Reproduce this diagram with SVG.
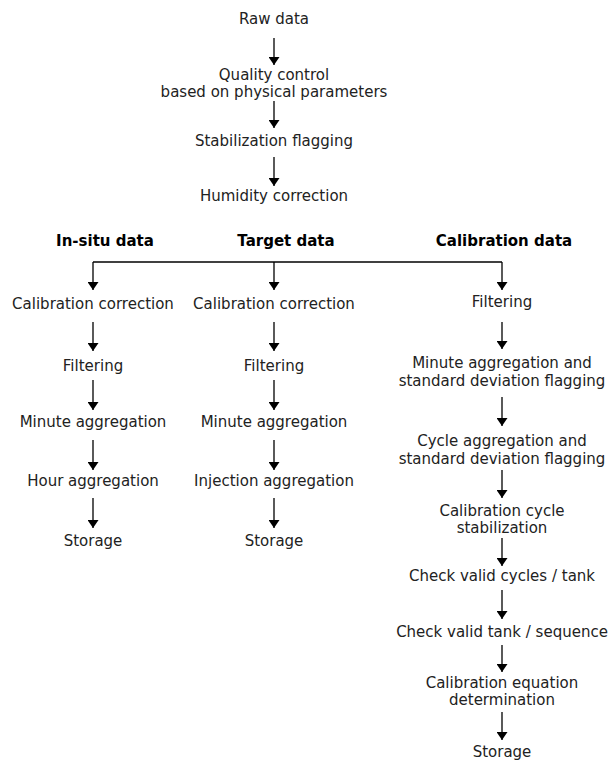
<svg xmlns="http://www.w3.org/2000/svg" width="609" height="762" viewBox="0 0 609 762">
<defs>
<marker id="ah" viewBox="0 0 8 11" refX="8" refY="5.5" markerWidth="8" markerHeight="11" markerUnits="userSpaceOnUse" orient="auto">
<path d="M0,0 L8,5.5 L0,11 Z" fill="#000"/>
</marker>
<style>
text{font-family:"DejaVu Sans",sans-serif;font-size:15px;fill:#222;text-anchor:middle}
.h{font-weight:bold;fill:#000}
.c line,.c path{stroke:#000;stroke-width:1.3;fill:none}
.c line{marker-end:url(#ah)}
</style>
</defs>
<rect width="609" height="762" fill="#fff"/>
<g id="raw"><text x="274" y="24">Raw data</text></g>
<g id="qc"><text x="274" y="80">Quality control</text><text x="274" y="97">based on physical parameters</text></g>
<g id="stab"><text x="274" y="146">Stabilization flagging</text></g>
<g id="hum"><text x="274" y="201">Humidity correction</text></g>
<g id="hdr-insitu"><text class="h" x="105" y="246">In-situ data</text></g>
<g id="hdr-target"><text class="h" x="286" y="246">Target data</text></g>
<g id="hdr-calib"><text class="h" x="504" y="246">Calibration data</text></g>
<g id="a1"><text x="93" y="309">Calibration correction</text></g>
<g id="a2"><text x="93" y="371">Filtering</text></g>
<g id="a3"><text x="93" y="427">Minute aggregation</text></g>
<g id="a4"><text x="93" y="486">Hour aggregation</text></g>
<g id="a5"><text x="93" y="546">Storage</text></g>
<g id="b1"><text x="274" y="309">Calibration correction</text></g>
<g id="b2"><text x="274" y="371">Filtering</text></g>
<g id="b3"><text x="274" y="427">Minute aggregation</text></g>
<g id="b4"><text x="274" y="486">Injection aggregation</text></g>
<g id="b5"><text x="274" y="546">Storage</text></g>
<g id="c1"><text x="502" y="307">Filtering</text></g>
<g id="c2"><text x="502" y="368">Minute aggregation and</text><text x="502" y="386">standard deviation flagging</text></g>
<g id="c3"><text x="502" y="446">Cycle aggregation and</text><text x="502" y="464">standard deviation flagging</text></g>
<g id="c4"><text x="502" y="516">Calibration cycle</text><text x="502" y="533">stabilization</text></g>
<g id="c5"><text x="502" y="581">Check valid cycles / tank</text></g>
<g id="c6"><text x="502" y="637">Check valid tank / sequence</text></g>
<g id="c7"><text x="502" y="688">Calibration equation</text><text x="502" y="705">determination</text></g>
<g id="c8"><text x="502" y="757">Storage</text></g>
<g id="connectors" class="c">
<line x1="274" y1="38" x2="274" y2="65"/>
<line x1="274" y1="101" x2="274" y2="128"/>
<line x1="274" y1="157" x2="274" y2="186"/>
<path d="M93,262 H502"/>
<line x1="93" y1="262" x2="93" y2="290"/>
<line x1="274" y1="262" x2="274" y2="290"/>
<line x1="502" y1="262" x2="502" y2="290"/>
<line x1="93" y1="322" x2="93" y2="351"/>
<line x1="93" y1="380" x2="93" y2="410"/>
<line x1="93" y1="440" x2="93" y2="470"/>
<line x1="93" y1="498" x2="93" y2="528"/>
<line x1="274" y1="322" x2="274" y2="351"/>
<line x1="274" y1="380" x2="274" y2="410"/>
<line x1="274" y1="440" x2="274" y2="470"/>
<line x1="274" y1="498" x2="274" y2="528"/>
<line x1="502" y1="322" x2="502" y2="349"/>
<line x1="502" y1="397" x2="502" y2="426"/>
<line x1="502" y1="470" x2="502" y2="498"/>
<line x1="502" y1="538" x2="502" y2="566"/>
<line x1="502" y1="590" x2="502" y2="619"/>
<line x1="502" y1="645" x2="502" y2="672"/>
<line x1="502" y1="712" x2="502" y2="740"/>
</g>
</svg>
